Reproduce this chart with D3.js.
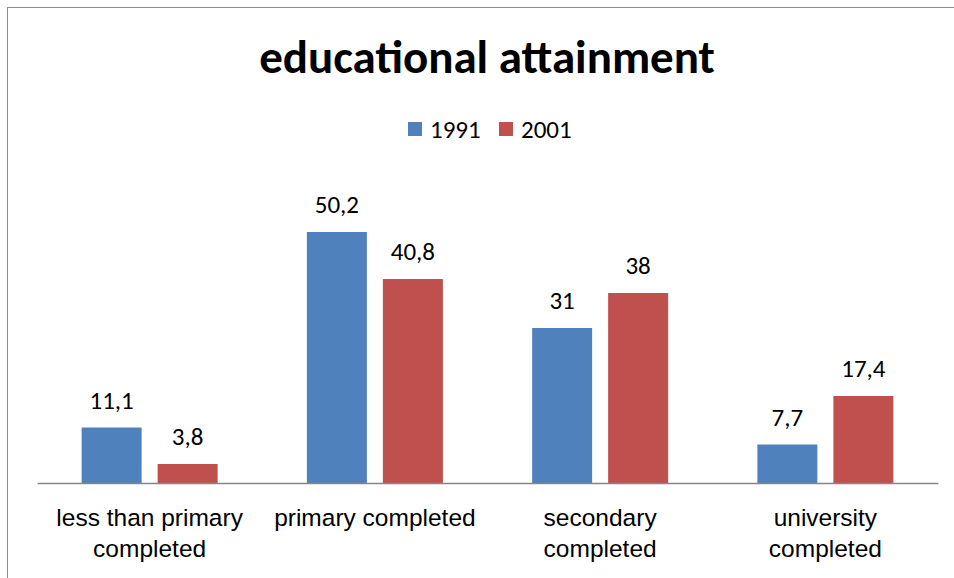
<!DOCTYPE html>
<html>
<head>
<meta charset="utf-8">
<script src="https://cdn.jsdelivr.net/npm/d3@7"></script>
<style>
  html, body { margin: 0; padding: 0; background: #fff; }
  svg { display: block; font-family: Carlito, Lato, "Open Sans", sans-serif; }
</style>
</head>
<body>
<svg id="chart" width="954" height="578"></svg>
<script>
// Educational attainment by level, 1991 vs 2001 (percent)
const categories = ["less than primary completed", "primary completed", "secondary completed", "university completed"];
const tickLabels = [["less than primary", "completed"], ["primary completed"], ["secondary", "completed"], ["university", "completed"]];
const seriesNames = ["1991", "2001"];
const values1991 = [11.1, 50.2, 31, 7.7];
const values2001 = [3.8, 40.8, 38, 17.4];
const valueLabels1991 = ["11,1", "50,2", "31", "7,7"];
const valueLabels2001 = ["3,8", "40,8", "38", "17,4"];
const colors = ["#4F81BD", "#C0504D"];

const svg = d3.select("#chart");
const W = 954, H = 578;
const left = 37, right = 938, baseY = 483, topY = 183;

// outer chart frame
svg.append("rect")
  .attr("x", 7.5).attr("y", 7.5)
  .attr("width", W).attr("height", H)
  .attr("fill", "none").attr("stroke", "#8c8c8c").attr("stroke-width", 1);

svg.append("text")
  .attr("x", 487).attr("y", 73)
  .attr("text-anchor", "middle")
  .attr("font-size", 47).attr("font-weight", "bold")
  .attr("fill", "#000")
  .text("educational attainment");

const x0 = d3.scaleBand().domain(categories).range([left, right]).padding(0);
const x1 = d3.scaleBand().domain(seriesNames).range([0, x0.bandwidth()])
  .paddingInner(16 / 76).paddingOuter(0.587);
const y = d3.scaleLinear().domain([0, 60]).range([baseY, topY]);

const series = [
  { name: seriesNames[0], values: values1991, labels: valueLabels1991, color: colors[0] },
  { name: seriesNames[1], values: values2001, labels: valueLabels2001, color: colors[1] }
];

const groups = svg.selectAll("g.series").data(series).join("g").attr("class", "series");

groups.selectAll("rect")
  .data(s => categories.map((c, i) => ({ c, v: s.values[i], name: s.name, color: s.color })))
  .join("rect")
  .attr("x", d => x0(d.c) + x1(d.name))
  .attr("y", d => y(d.v))
  .attr("width", x1.bandwidth())
  .attr("height", d => y(0) - y(d.v))
  .attr("fill", d => d.color);

groups.selectAll("text")
  .data(s => categories.map((c, i) => ({ c, v: s.values[i], label: s.labels[i], name: s.name })))
  .join("text")
  .attr("x", d => x0(d.c) + x1(d.name) + x1.bandwidth() / 2)
  .attr("y", d => y(d.v) - 19)
  .attr("text-anchor", "middle")
  .attr("font-size", 25)
  .attr("fill", "#000")
  .text(d => d.label);

// category axis
const xAxis = d3.axisBottom(x0).tickSize(0).tickFormat("");
const axisG = svg.append("g").attr("transform", `translate(0,${baseY})`).call(xAxis);
axisG.select(".domain").attr("stroke", "#868686").attr("stroke-width", 1.5);

axisG.selectAll(".tick").each(function(d, i) {
  const t = d3.select(this).append("text")
    .attr("text-anchor", "middle")
    .attr("fill", "#000")
    .attr("font-size", 24.5)
    .attr("y", 43);
  tickLabels[i].forEach((line, j) => {
    t.append("tspan").attr("x", 0).attr("dy", j === 0 ? 0 : 31).text(line);
  });
});

// legend
const legend = svg.append("g");
const legendX = [408, 499];
series.forEach((s, i) => {
  legend.append("rect")
    .attr("x", legendX[i]).attr("y", 122)
    .attr("width", 14).attr("height", 14)
    .attr("fill", s.color);
  legend.append("text")
    .attr("x", legendX[i] + 22).attr("y", 138)
    .attr("font-size", 25)
    .attr("fill", "#000")
    .text(s.name);
});
</script>
</body>
</html>
